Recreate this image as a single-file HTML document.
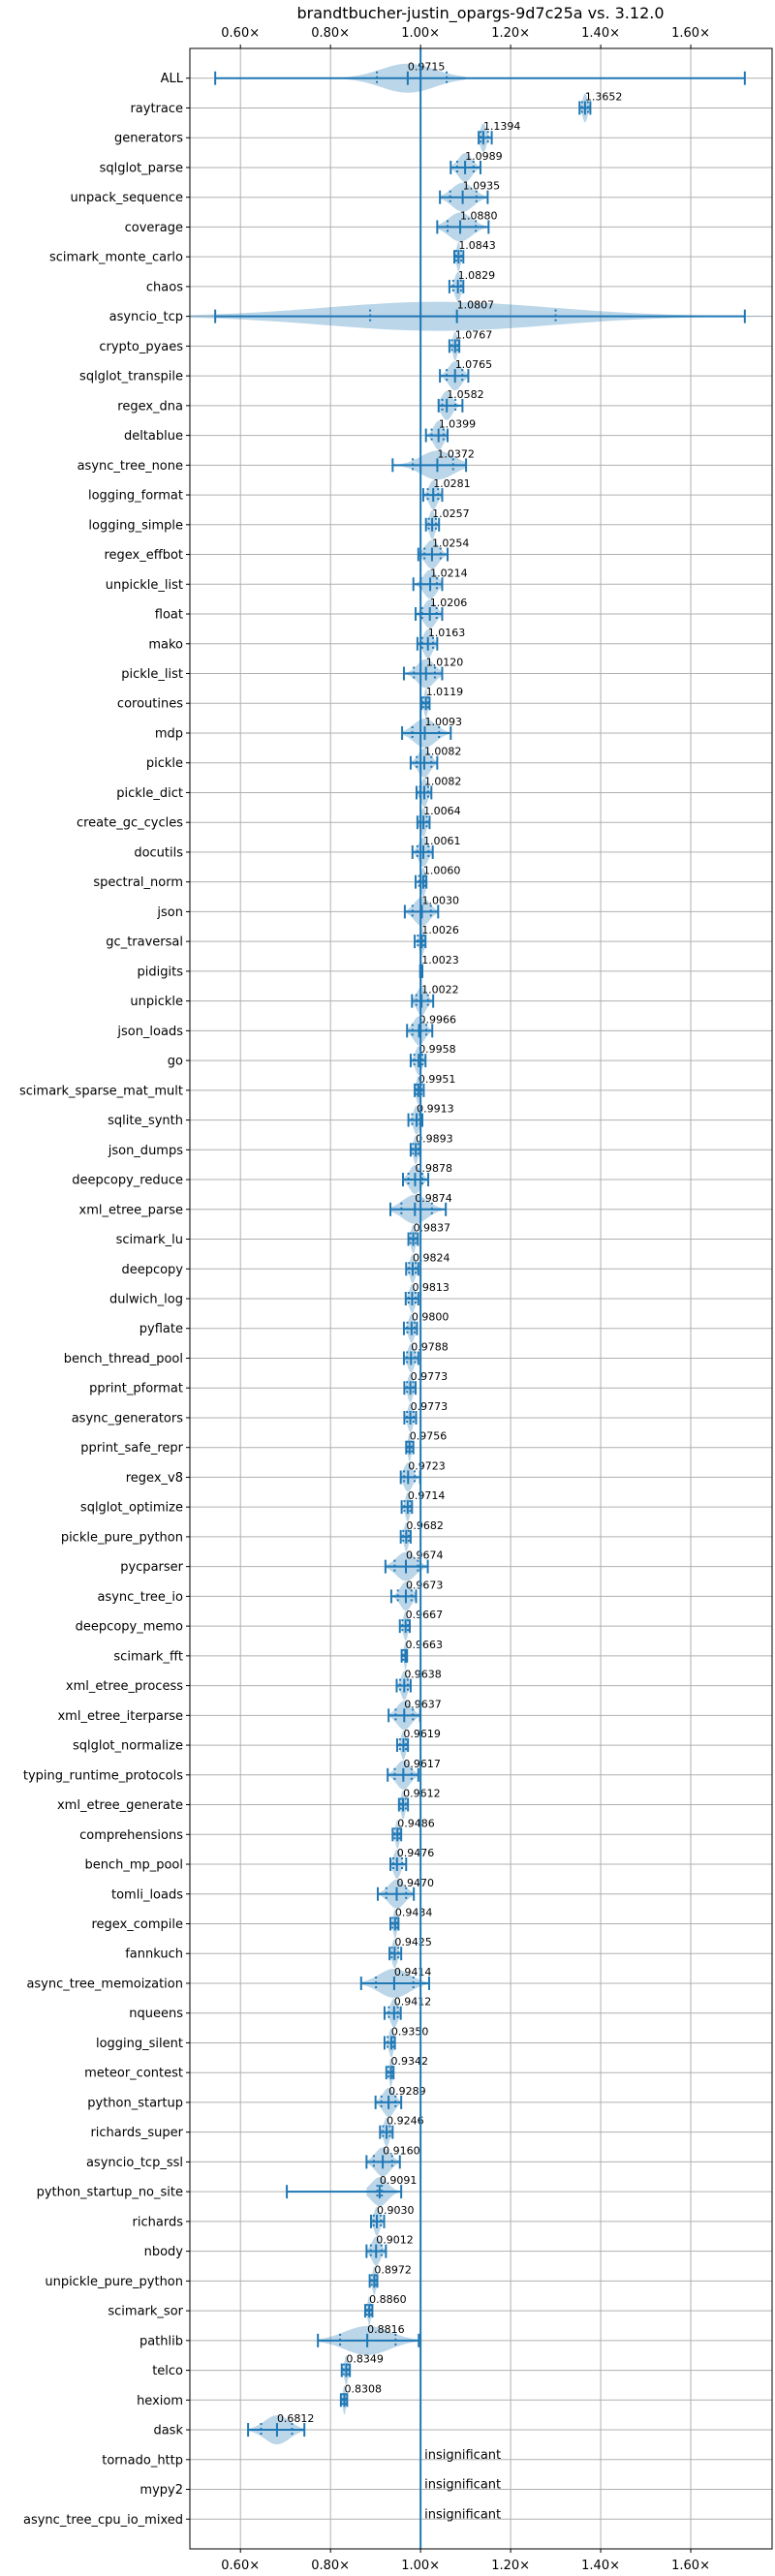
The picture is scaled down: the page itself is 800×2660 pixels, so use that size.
<!DOCTYPE html>
<html><head><meta charset="utf-8">
<style>
html,body{margin:0;padding:0;background:#fff;}
svg{display:block;font-family:"DejaVu Sans","Liberation Sans",sans-serif;}
</style></head>
<body>
<svg id="chart" width="800" height="2660" viewBox="0 0 800 2660" xmlns="http://www.w3.org/2000/svg">
<rect x="0" y="0" width="800" height="2660" fill="#fff"/>
<text x="496" y="19" text-anchor="middle" font-size="16" fill="#000">brandtbucher-justin_opargs-9d7c25a vs. 3.12.0</text>
<g id="grid"></g>
<g id="marks"></g>
<g id="axes"></g>
</svg>
<script>
const names = ["ALL","raytrace","generators","sqlglot_parse","unpack_sequence","coverage","scimark_monte_carlo","chaos","asyncio_tcp","crypto_pyaes","sqlglot_transpile","regex_dna","deltablue","async_tree_none","logging_format","logging_simple","regex_effbot","unpickle_list","float","mako","pickle_list","coroutines","mdp","pickle","pickle_dict","create_gc_cycles","docutils","spectral_norm","json","gc_traversal","pidigits","unpickle","json_loads","go","scimark_sparse_mat_mult","sqlite_synth","json_dumps","deepcopy_reduce","xml_etree_parse","scimark_lu","deepcopy","dulwich_log","pyflate","bench_thread_pool","pprint_pformat","async_generators","pprint_safe_repr","regex_v8","sqlglot_optimize","pickle_pure_python","pycparser","async_tree_io","deepcopy_memo","scimark_fft","xml_etree_process","xml_etree_iterparse","sqlglot_normalize","typing_runtime_protocols","xml_etree_generate","comprehensions","bench_mp_pool","tomli_loads","regex_compile","fannkuch","async_tree_memoization","nqueens","logging_silent","meteor_contest","python_startup","richards_super","asyncio_tcp_ssl","python_startup_no_site","richards","nbody","unpickle_pure_python","scimark_sor","pathlib","telco","hexiom","dask","tornado_http","mypy2","async_tree_cpu_io_mixed"];
const values = [0.9715,1.3652,1.1394,1.0989,1.0935,1.0880,1.0843,1.0829,1.0807,1.0767,1.0765,1.0582,1.0399,1.0372,1.0281,1.0257,1.0254,1.0214,1.0206,1.0163,1.0120,1.0119,1.0093,1.0082,1.0082,1.0064,1.0061,1.0060,1.0030,1.0026,1.0023,1.0022,0.9966,0.9958,0.9951,0.9913,0.9893,0.9878,0.9874,0.9837,0.9824,0.9813,0.9800,0.9788,0.9773,0.9773,0.9756,0.9723,0.9714,0.9682,0.9674,0.9673,0.9667,0.9663,0.9638,0.9637,0.9619,0.9617,0.9612,0.9486,0.9476,0.9470,0.9434,0.9425,0.9414,0.9412,0.9350,0.9342,0.9289,0.9246,0.9160,0.9091,0.9030,0.9012,0.8972,0.8860,0.8816,0.8349,0.8308,0.6812,null,null,null];
const mins = [0.544,1.353,1.129,1.067,1.043,1.037,1.075,1.064,0.544,1.064,1.043,1.040,1.012,0.938,1.006,1.012,0.995,0.984,0.989,0.993,0.963,1.002,0.959,0.978,0.991,0.993,0.982,0.989,0.965,0.987,0.999,0.981,0.970,0.978,0.987,0.973,0.978,0.961,0.933,0.973,0.968,0.967,0.963,0.963,0.964,0.964,0.968,0.956,0.958,0.956,0.922,0.935,0.954,0.958,0.947,0.929,0.948,0.927,0.952,0.938,0.933,0.905,0.933,0.931,0.868,0.920,0.920,0.924,0.900,0.910,0.880,0.703,0.890,0.880,0.887,0.877,0.772,0.825,0.823,0.617,null,null,null];
const maxs = [1.720,1.377,1.158,1.133,1.149,1.151,1.095,1.095,1.720,1.086,1.106,1.093,1.060,1.101,1.048,1.041,1.060,1.048,1.048,1.037,1.048,1.020,1.067,1.037,1.024,1.020,1.027,1.013,1.039,1.011,1.004,1.028,1.026,1.011,1.007,1.004,0.999,1.017,1.056,0.994,0.995,0.995,0.992,0.995,0.989,0.990,0.984,0.999,0.981,0.978,1.016,0.990,0.976,0.970,0.978,0.999,0.972,0.995,0.972,0.957,0.968,0.985,0.951,0.957,1.019,0.956,0.943,0.940,0.957,0.938,0.954,0.957,0.919,0.923,0.904,0.893,0.996,0.843,0.837,0.742,null,null,null];
const xTicks = [0.6,0.8,1.0,1.2,1.4,1.6];
const xTickLabels = ["0.60×","0.80×","1.00×","1.20×","1.40×","1.60×"];

const NS = "http://www.w3.org/2000/svg";
const L = 196, R = 797, T = 50, B = 2632;
const X0 = 0.4877, X1 = 1.7806;
function xs(v){ return L + (v - X0) / (X1 - X0) * (R - L); }
const rowStep = (B - T) / (names.length + 1);
function ys(i){ return T + (i + 1) * rowStep; }
const BLUE = "#1f77b4";

function mk(tag, attrs, parent){
  const e = document.createElementNS(NS, tag);
  for (const k in attrs) e.setAttribute(k, attrs[k]);
  parent.appendChild(e);
  return e;
}
const grid = document.getElementById("grid");
const marks = document.getElementById("marks");
const axes = document.getElementById("axes");

xTicks.forEach((t, k) => {
  const g = mk("line", {x1: xs(t), x2: xs(t), y1: T, y2: B, stroke: "#b0b0b0", "stroke-width": 1}, grid);
  
  
  const a = mk("text", {x: xs(t), y: 38, "text-anchor": "middle", "font-size": 13, fill: "#000"}, axes);
  a.textContent = xTickLabels[k];
  
  
  const b = mk("text", {x: xs(t), y: 2653, "text-anchor": "middle", "font-size": 13, fill: "#000"}, axes);
  b.textContent = xTickLabels[k];
  
  
  mk("line", {x1: xs(t), x2: xs(t), y1: T - 4, y2: T, stroke: "#000"}, axes);
  mk("line", {x1: xs(t), x2: xs(t), y1: B, y2: B + 4, stroke: "#000"}, axes);
});
names.forEach((n, i) => {
  const y = ys(i);
  const g = mk("line", {x1: L, x2: R, y1: y, y2: y, stroke: "#b0b0b0", "stroke-width": 1}, grid);
  
  
  mk("line", {x1: L - 4, x2: L, y1: y, y2: y, stroke: "#000"}, axes);
  const t = mk("text", {x: L - 7, y: y + 4.5, "text-anchor": "end", "font-size": 13, fill: "#000"}, axes);
  t.textContent = n;
  
  
});

function violinPath(i, lo, hi, center, sig, H){
  const y = ys(i);
  const N = 40;
  let top = [], bot = [];
  for (let k = 0; k <= N; k++){
    const v = lo + (hi - lo) * k / N;
    const d = Math.exp(-0.5 * Math.pow((v - center) / sig, 2));
    const h = H * d;
    top.push(xs(v).toFixed(2) + "," + (y - h).toFixed(2));
    bot.unshift(xs(v).toFixed(2) + "," + (y + h).toFixed(2));
  }
  return "M" + top.join(" L") + " L" + bot.join(" L") + " Z";
}

names.forEach((n, i) => {
  const y = ys(i);
  const v = values[i];
  if (v === null){
    const t = mk("text", {x: xs(1.0) + 4, y: y - 1, "font-size": 13, fill: "#000"}, marks);
    t.textContent = "insignificant";
    
    
    return;
  }
  const lo = mins[i], hi = maxs[i];
  let klo = lo, khi = hi, sig = (hi - lo) / 4.5, c = v;
  if (n === "ALL"){ klo = 0.80; khi = 1.10; sig = 0.06; }
  if (n === "asyncio_tcp"){ klo = X0; khi = X1; sig = 0.25; c = 1.04; }
  if (n === "python_startup_no_site"){ klo = 0.88; khi = 0.96; sig = 0.018; }
  const vp = mk("path", {d: violinPath(i, klo, khi, c, sig, 15), fill: BLUE, "fill-opacity": 0.3}, marks);
  
  
  const rl = mk("line", {x1: xs(lo), x2: xs(hi), y1: y, y2: y, stroke: BLUE, "stroke-width": 2}, marks);
  
  
  [lo, hi].forEach(e => {
    const c2 = mk("line", {x1: xs(e), x2: xs(e), y1: y - 7, y2: y + 7, stroke: BLUE, "stroke-width": 2}, marks);
    
    
  });
  const ml = mk("line", {x1: xs(v), x2: xs(v), y1: y - 7, y2: y + 7, stroke: BLUE, "stroke-width": 2}, marks);
  
  
  let q1 = v - (v - lo) * 0.55, q3 = v + (hi - v) * 0.55;
  if (n === "ALL"){ q1 = 0.903; q3 = 1.058; }
  if (n === "asyncio_tcp"){ q1 = 0.888; q3 = 1.300; }
  if (n === "python_startup_no_site"){ q1 = 0.904; q3 = 0.914; }
  [q1, q3].forEach(q => {
    const d = mk("line", {x1: xs(q), x2: xs(q), y1: y - 7, y2: y + 7, stroke: BLUE, "stroke-width": 2, "stroke-dasharray": "2,3"}, marks);
    
    
  });
  const t = mk("text", {x: xs(v), y: y - 8, "font-size": 11, fill: "#000"}, marks);
  t.textContent = v.toFixed(4);
  
  
});

const ref = mk("line", {x1: xs(1.0), x2: xs(1.0), y1: T, y2: B, stroke: BLUE, "stroke-width": 2}, marks);


const fr = mk("rect", {x: L, y: T, width: R - L, height: B - T, fill: "none", stroke: "#000", "stroke-width": 1}, axes);


</script>
</body></html>
